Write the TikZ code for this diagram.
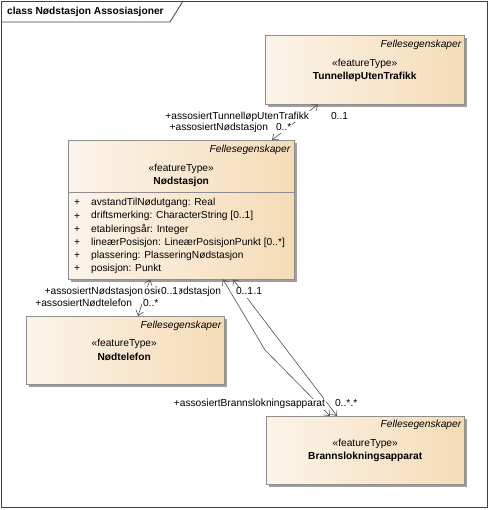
\documentclass[tikz,border=0pt]{standalone}
\usepackage{fontspec}
\setmainfont{Liberation Sans}
\usetikzlibrary{shadows,arrows.meta}

\definecolor{boxleft}{HTML}{FCF4EA}
\definecolor{boxright}{HTML}{F5DCB7}
\definecolor{boxline}{HTML}{8E8E8E}
\definecolor{linegray}{HTML}{4E4E4E}

\tikzset{
  featbox/.style={draw=boxline, left color=boxleft, right color=boxright, anchor=north west, inner sep=0pt,
    drop shadow={shadow xshift=3pt, shadow yshift=-3pt, fill=black!38, opacity=1}},
  txt/.style={font=\fontsize{10.2}{12}\selectfont, inner sep=0pt},
  lbl/.style={txt, inner sep=0.8pt, fill=white, text height=7.4pt, text depth=2pt},
  pkg/.style={txt, font=\fontsize{10.2}{12}\selectfont\itshape, anchor=east},
  cname/.style={txt, font=\fontsize{10.2}{12}\selectfont\bfseries},
  attr/.style={txt, anchor=west},
  assoc/.style={draw=linegray, line width=0.6pt, <->}
}

\begin{document}
\begin{tikzpicture}[x=1pt, y=-1pt, >={Straight Barb[length=5pt,width=8pt]}]

\useasboundingbox (0,0) rectangle (490,510);

% frame and title tab
\draw[black!75, line width=0.8pt] (1,1) rectangle (487,507);
\draw[black!75, line width=0.8pt] (1,22) -- (170,22) -- (183,1);
\node[cname, anchor=west] (title) at (7,12) {class Nødstasjon Assosiasjoner};

% classes
\node[featbox, minimum width=199pt, minimum height=69pt] (tunnel) at (265,35) {};
\node[featbox, minimum width=226pt, minimum height=139pt] (nod) at (68,140) {};
\node[featbox, minimum width=198pt, minimum height=68pt] (tlf) at (26,316) {};
\node[featbox, minimum width=198pt, minimum height=68pt] (brann) at (266,416) {};

\node[pkg] (tunnelpkg) at ([xshift=-3pt,yshift=-9.5pt]tunnel.north east) {Fellesegenskaper};
\node[txt] (tunnelst) at ([yshift=-28.5pt]tunnel.north) {«featureType»};
\node[cname] (tunnelname) at ([yshift=-42pt]tunnel.north) {TunnelløpUtenTrafikk};

\node[pkg] (nodpkg) at ([xshift=-4pt,yshift=-10pt]nod.north east) {Fellesegenskaper};
\node[txt] (nodst) at ([yshift=-29pt]nod.north) {«featureType»};
\node[cname] (nodname) at ([yshift=-41.5pt]nod.north) {Nødstasjon};
\draw[boxline] ([yshift=-52pt]nod.north west) -- ([yshift=-52pt]nod.north east); % attribute compartment

\node[txt] (p1) at (77,203) {+};
\node[txt] (p2) at (77,216.2) {+};
\node[txt] (p3) at (77,229.4) {+};
\node[txt] (p4) at (77,242.6) {+};
\node[txt] (p5) at (77,255.8) {+};
\node[txt] (p6) at (77,269) {+};
\node[attr] (a1) at (91,203) {avstandTilNødutgang: Real};
\node[attr] (a2) at (91,216.2) {driftsmerking: CharacterString [0..1]};
\node[attr] (a3) at (91,229.4) {etableringsår: Integer};
\node[attr] (a4) at (91,242.6) {lineærPosisjon: LineærPosisjonPunkt [0..*]};
\node[attr] (a5) at (91,255.8) {plassering: PlasseringNødstasjon};
\node[attr] (a6) at (91,269) {posisjon: Punkt};

\node[pkg] (tlfpkg) at ([xshift=-3pt,yshift=-9.5pt]tlf.north east) {Fellesegenskaper};
\node[txt] (tlfst) at ([xshift=-1pt,yshift=-28pt]tlf.north) {«featureType»};
\node[cname] (tlfname) at ([xshift=-1pt,yshift=-41pt]tlf.north) {Nødtelefon};

\node[pkg] (brannpkg) at ([xshift=-3pt,yshift=-8.5pt]brann.north east) {Fellesegenskaper};
\node[txt] (brannst) at ([yshift=-27.5pt]brann.north) {«featureType»};
\node[cname] (brannname) at ([yshift=-41pt]brann.north) {Brannslokningsapparat};

% associations
\coordinate (bend) at (265,350);
\draw[assoc] ([xshift=53pt]tunnel.south west) -- ([xshift=204pt]nod.north west);
\draw[assoc] ([xshift=82pt]nod.south west) -- ([xshift=112pt]tlf.north west);
\draw[assoc] ([xshift=155pt]nod.south west) -- (bend) -- ([xshift=64pt]brann.north west);
\draw[assoc] ([xshift=165pt]nod.south west) -- ([xshift=71pt]brann.north west);

% role names and multiplicities
\node[lbl, anchor=east] (r1) at (310,117) {+assosiertTunnelløpUtenTrafikk};
\node[lbl, anchor=west] (m1) at (330,117) {0..1};
\node[lbl, anchor=east] (r2) at (269,128) {+assosiertNødstasjon};
\node[lbl, anchor=west] (m2) at (275,128) {0..*};

\node[lbl, anchor=east] (r5b) at (222,292) {+assosiertNødstasjon};
\node[lbl, anchor=east] (r5) at (222,292) {+assosiertNødstasjon};
\node[lbl, anchor=west] (m5b) at (244,292) {0..1};
\node[lbl, anchor=west] (m5) at (235,292) {0..1};
\node[lbl, anchor=east] (r6b) at (326,404) {+assosiertBrannslokningsapparat};
\node[lbl, anchor=east] (r6) at (326,404) {+assosiertBrannslokningsapparat};
\node[lbl, anchor=west] (m6b) at (341,404) {0..*};
\node[lbl, anchor=west] (m6) at (334,404) {0..*};

\node[lbl, anchor=east] (r3) at (144,292) {+assosiertNødstasjon};
\node[lbl, anchor=west] (m3) at (160,292) {0..1};
\node[lbl, anchor=east] (r4) at (133,304) {+assosiertNødtelefon};
\node[lbl, anchor=west] (m4) at (142,304) {0..*};

\end{tikzpicture}
\end{document}
